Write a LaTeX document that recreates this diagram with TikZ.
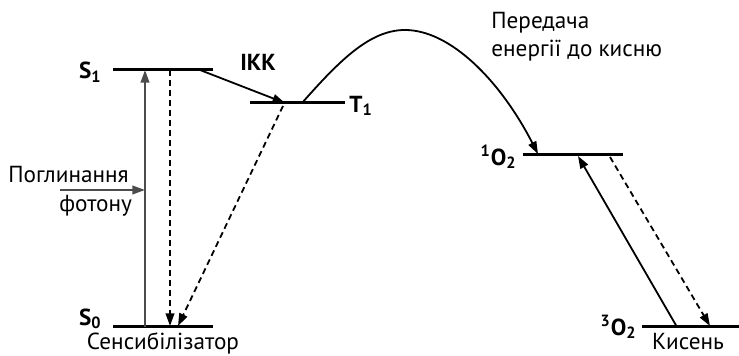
\documentclass[tikz,border=0pt]{standalone}
\usepackage{fontspec}
\setmainfont{PT Sans}
\usetikzlibrary{arrows.meta,positioning,calc}

\begin{document}
\begin{tikzpicture}[
  x=0.5pt,y=-0.5pt,
  level/.style={line width=1.5pt},
  arrow/.style={-{Triangle[length=2.2mm,width=1.5mm]},line width=0.9pt},
  dasharrow/.style={arrow,dash pattern=on 3pt off 2pt},
  lbl/.style={font=\fontsize{11.6}{14}\selectfont,inner sep=1pt},
  state/.style={lbl,font=\fontsize{11.6}{14}\selectfont\bfseries,inner sep=0pt},
]
  \useasboundingbox (0,0) rectangle (739,356);
  % energy levels
  \coordinate (s1a) at (113,70);  \coordinate (s1b) at (213,70);
  \coordinate (s0a) at (113,327); \coordinate (s0b) at (213,327);
  \coordinate (t1a) at (250,103); \coordinate (t1b) at (345,103);
  \coordinate (oxa) at (523,155); \coordinate (oxb) at (623,155);
  \coordinate (oga) at (642,327); \coordinate (ogb) at (739,327);
  \draw[level] (s1a) -- (s1b);
  \draw[level] (s0a) -- (s0b);
  \draw[level] (t1a) -- (t1b);
  \draw[level] (oxa) -- (oxb);
  \draw[level] (oga) -- (ogb);

  % labels
  \node[state,anchor=east] (s1) at (102,72) {S\textsubscript{1}};
  \node[state,anchor=east] (s0) at (102,319) {S\textsubscript{0}};
  \node[lbl] (sens) at (163,343) {Сенсибілізатор};
  \node[state] (ikk) at (258,62) {ІКК};
  \node[state,anchor=west] (t1) at (349,106) {T\textsubscript{1}};
  \node[lbl,anchor=west,align=left] (transfer) at (489,37)
    {Передача\\енергії до кисню};
  \node[state,anchor=east] (singlet) at (517,157) {\textsuperscript{1}O\textsubscript{2}};
  \node[state,anchor=east] (triplet) at (637,327) {\textsuperscript{3}O\textsubscript{2}};
  \node[lbl] (oxygen) at (688,342) {Кисень};
  \node[lbl,anchor=west] (pogl) at (6,175) {Поглинання};
  \node[lbl,anchor=west] (foton) at (57,206) {фотону};

  % transitions
  \coordinate (absbot) at (145,327); \coordinate (abstop) at (145,70);
  \draw[arrow,gray!60!black] (absbot) -- (abstop);
  \coordinate (photon) at (60,190);
  \draw[arrow,gray!60!black] (photon) -- (absbot|-photon);
  \draw[dasharrow] (170,70) coordinate (fl1) -- (170,326) coordinate (fl0);
  \draw[arrow] (200,70) coordinate (isc0) -- (285,103) coordinate (isc1);
  \draw[dasharrow] (283,106) coordinate (ph1) -- (178,326) coordinate (ph0);
  \coordinate (cstart) at (302,103);
  \coordinate (cpeak) at (405,30);
  \coordinate (cend) at (538,154);
  \draw[arrow] (cstart) .. controls (340,60) and (370,30) .. (cpeak)
    .. controls (450,30) and (500,80) .. (cend);
  \draw[arrow] (677,327) coordinate (ex0) -- (578,156) coordinate (ex1);
  \draw[dasharrow] (610,157) coordinate (rel1) -- (710,326) coordinate (rel0);
\end{tikzpicture}
\end{document}
